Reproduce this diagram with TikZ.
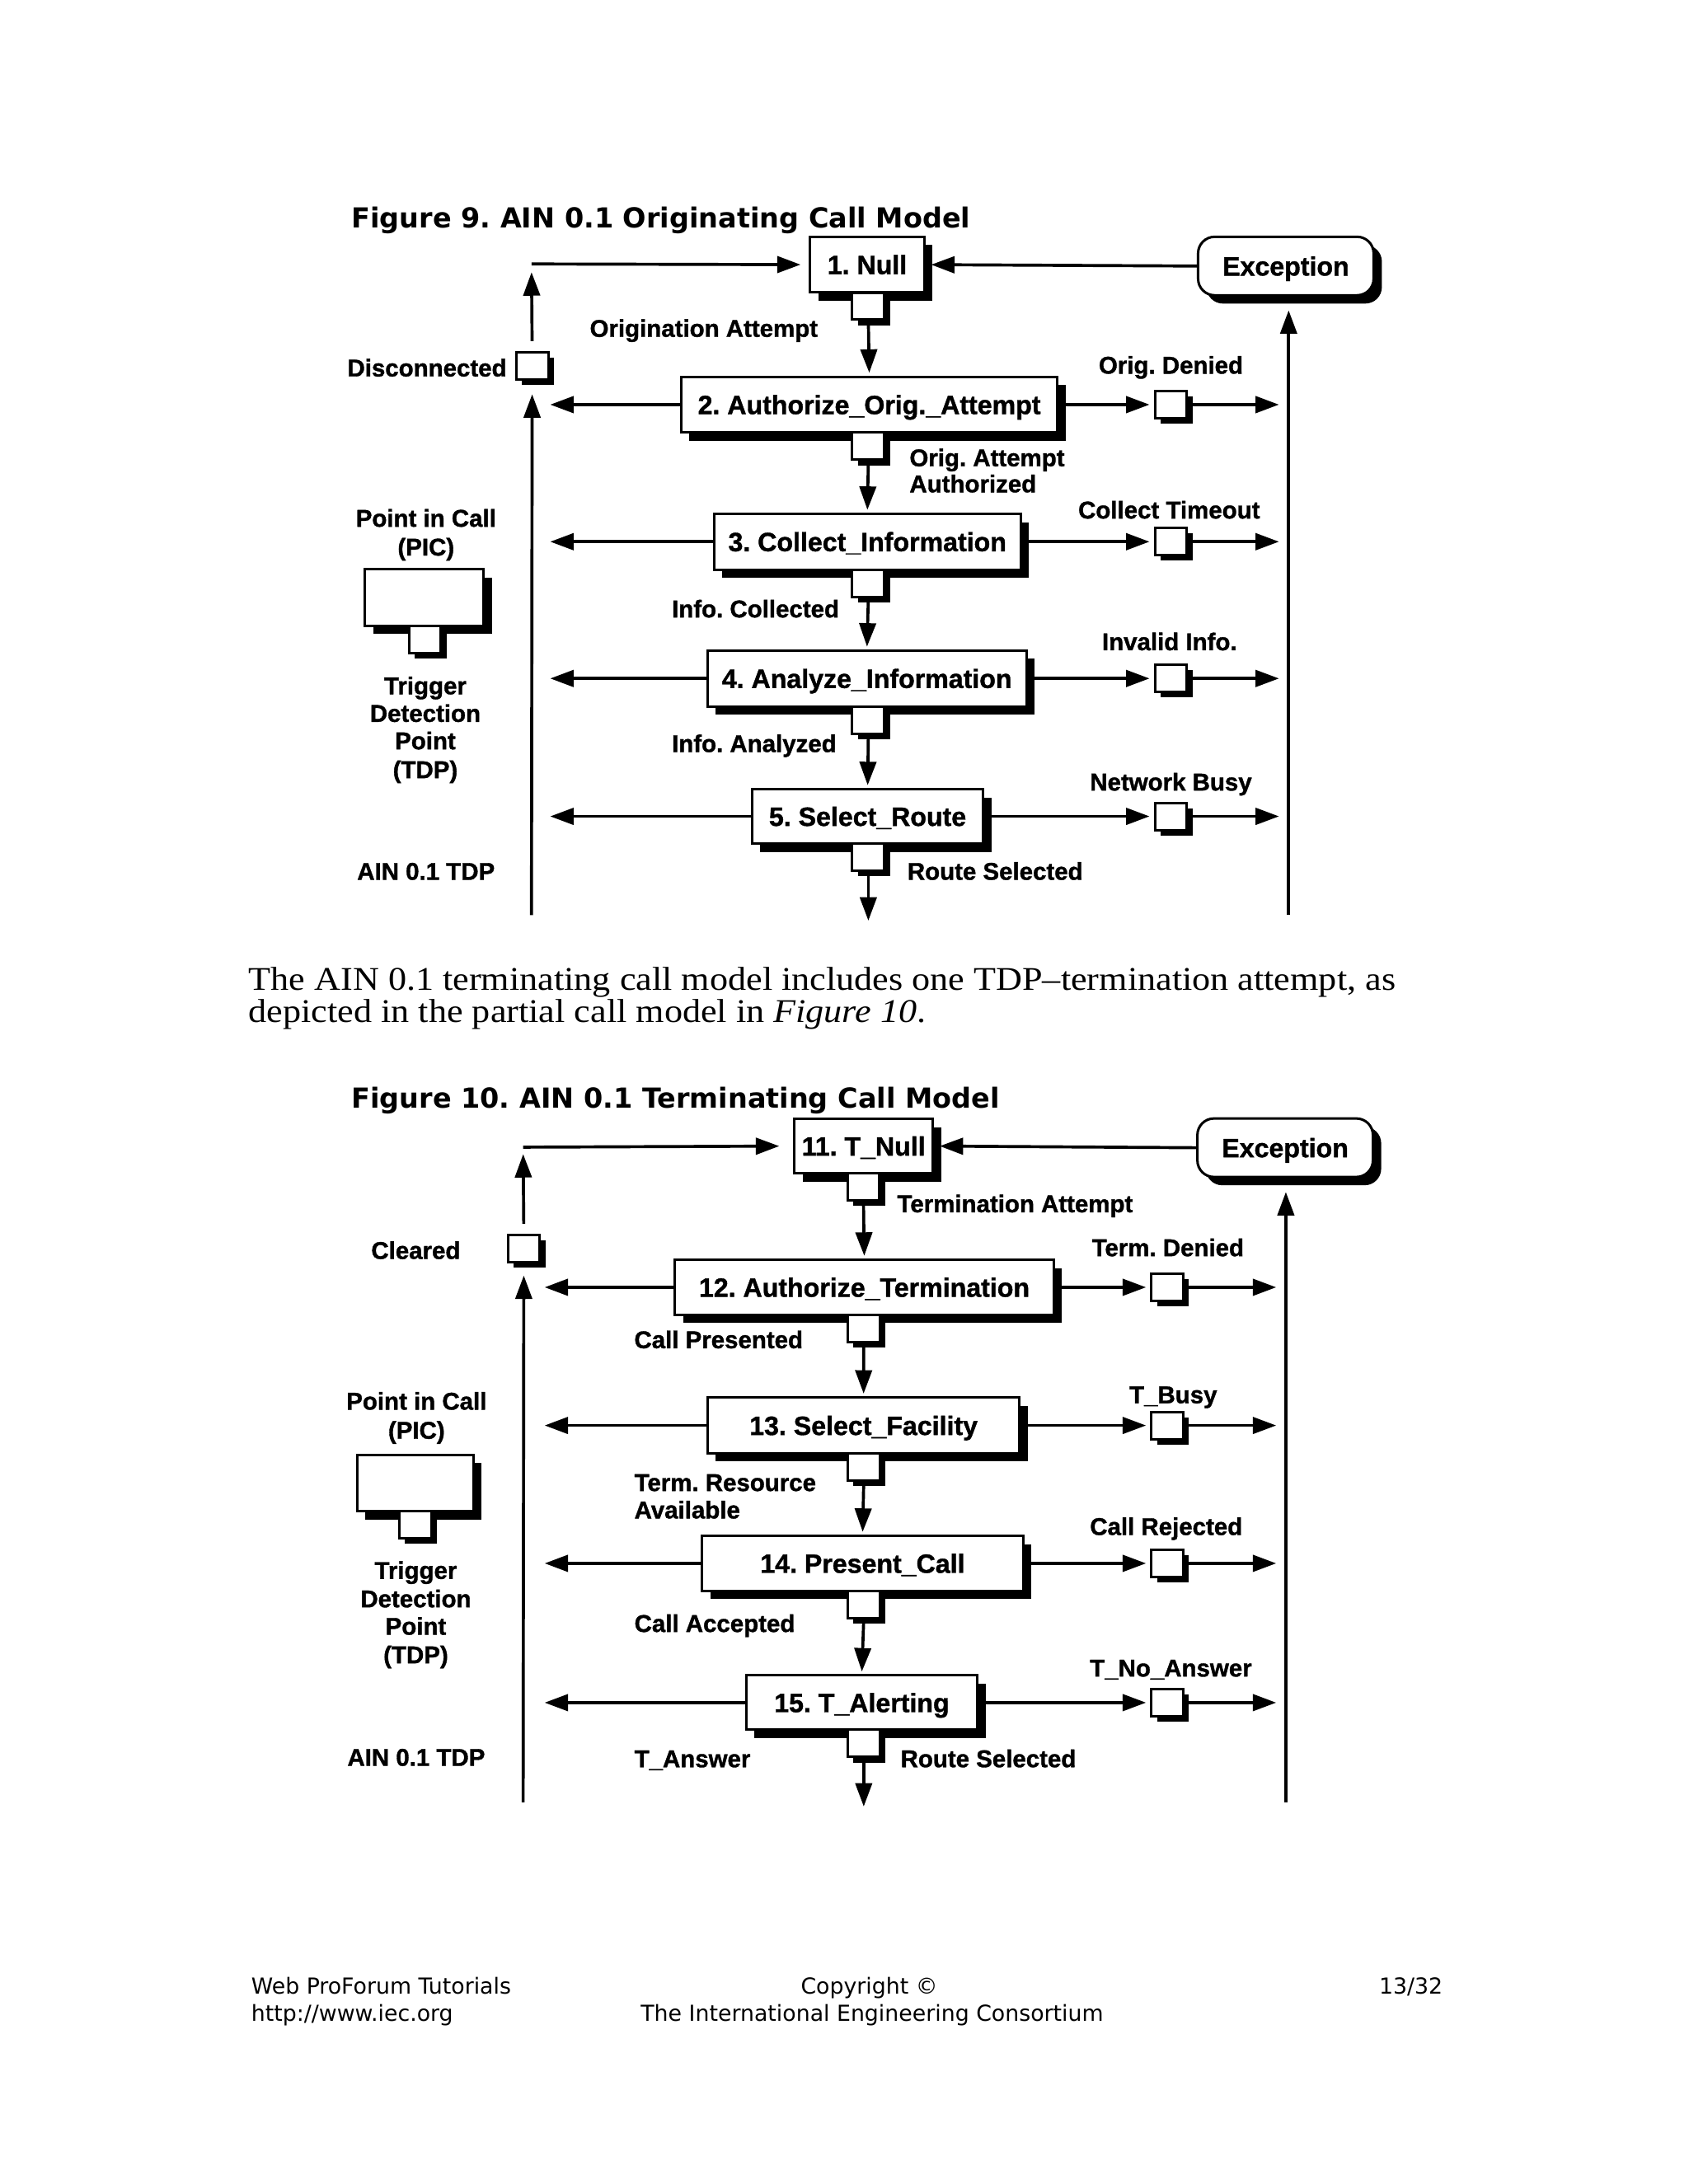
\documentclass[tikz,border=0pt]{standalone}
\usepackage{fontspec}
\setmainfont{Liberation Serif}[FakeStretch=1.1]
\newfontfamily\capfont{DejaVu Sans}
\newfontfamily\diafont{Liberation Sans}[BoldFeatures={FakeBold=1.2}]
\usetikzlibrary{arrows.meta,shadows}
\frenchspacing
\tikzset{
  arr/.style={line width=1.1pt,-{Triangle[length=8.5pt,width=6pt]}},
  sz/.style 2 args={minimum width=#1*0.505pt,minimum height=#2*0.505pt},
  bigshadow/.style={drop shadow={shadow xshift=3pt,shadow yshift=-3pt,opacity=1,fill=black}},
  smallshadow/.style={drop shadow={shadow xshift=2pt,shadow yshift=-2pt,opacity=1,fill=black}},
  picbox/.style={draw,line width=0.9pt,fill=white,bigshadow,inner sep=0pt,
    font=\diafont\bfseries\fontsize{9.6}{11}\selectfont,text height=6.9pt,text depth=0pt},
  excbox/.style={picbox,rounded corners=6pt},
  tdpbox/.style={draw,line width=0.9pt,fill=white,smallshadow,inner sep=0pt,minimum width=23*0.505pt,minimum height=19.5*0.505pt},
  lab/.style={inner sep=0pt,font=\diafont\bfseries\fontsize{8.8}{10}\selectfont,text height=6.3pt,text depth=0pt},
  labw/.style={lab,anchor=west},
  figcap/.style={inner sep=0pt,anchor=base west,font=\capfont\bfseries\fontsize{10}{12}\selectfont},
  bodytext/.style={inner sep=0pt,anchor=base west,font=\fontsize{12}{14}\selectfont},
  foot/.style={inner sep=0pt,font=\capfont\fontsize{8}{10}\selectfont}
}
\begin{document}
\begin{tikzpicture}[x=0.505pt,y=-0.505pt]
\useasboundingbox[fill=white] (0,0) rectangle (1212,1568);

%% ================= Figure 9 =================
\node[figcap] (cap9) at (251.9,163.7) {Figure 9. AIN 0.1 Originating Call Model};

\node[picbox,sz={82}{40}] (n1) at (622.5,190) {1. Null};
\node[tdpbox] (t1) at (623.3,219.8) {};
\node[excbox,sz={126}{42}] (exc1) at (923,191) {Exception};

\node[picbox,sz={270}{40}] (n2) at (624,290.5) {2. Authorize\_Orig.\_Attempt};
\node[tdpbox] (t2) at (623.3,320.3) {};
\node[tdpbox] (r2) at (840.5,290.5) {};
\node[tdpbox] (d1) at (382,262.5) {};

\node[picbox,sz={220}{40}] (n3) at (622.6,388.9) {3. Collect\_Information};
\node[tdpbox] (t3) at (623.3,418.7) {};
\node[tdpbox] (r3) at (840.5,388.9) {};

\node[picbox,sz={229}{40}] (n4) at (622.3,487.1) {4. Analyze\_Information};
\node[tdpbox] (t4) at (623.3,516.9) {};
\node[tdpbox] (r4) at (840.5,487.1) {};

\node[picbox,sz={166}{39}] (n5) at (622.8,586.1) {5. Select\_Route};
\node[tdpbox] (t5) at (623.3,615.4) {};
\node[tdpbox] (r5) at (840.5,586.1) {};

\node[picbox,sz={85}{40.5}] (leg9) at (304.6,429.1) {};
\node[tdpbox] (legt9) at (305,459.2) {};

\coordinate (L9top) at (381.5,189.5);
\coordinate (L9bot) at (381.5,657);
\coordinate (R9bot) at (925,657);
\coordinate (b9) at (623.3,661);

% connectors
\draw[arr,shorten >=2pt] (exc1.west) -- (n1.east);
\draw[arr,shorten >=3pt] (L9top) -- (n1.west);
\draw[arr,shorten <=3.5pt,shorten >=3pt] (d1.north) -- (L9top);
\draw[arr,shorten >=5pt] (L9bot) -- (d1.south);
\draw[arr,shorten >=5pt] (R9bot) -- (R9bot |- exc1.south);
\foreach \a/\b in {t1/n2,t2/n3,t3/n4,t4/n5}{
  \draw[arr,shorten >=1pt] (\a.south) -- (\b.north);
}
\draw[arr] (t5.south) -- (b9);
\foreach \n/\r in {n2/r2,n3/r3,n4/r4,n5/r5}{
  \draw[arr,shorten >=6.8pt] (\n.west) -- (\n.west -| L9bot);
  \draw[arr,shorten >=1.5pt] (\n.east) -- (\r.west);
  \draw[arr,shorten >=3.5pt] (\r.east) -- (\r.east -| R9bot);
}

% labels
\node[labw] (lo1) at (423,235.6) {Origination Attempt};
\node[labw] (ldis) at (249,264) {Disconnected};
\node[labw] (lden) at (788.3,262) {Orig. Denied};
\node[labw] (loa1) at (652.5,328.5) {Orig. Attempt};
\node[labw] (loa2) at (652.5,347.2) {Authorized};
\node[lab] (lpic9a) at (305.8,371.9) {Point in Call};
\node[lab] (lpic9b) at (305.8,392.6) {(PIC)};
\node[labw] (lct) at (773.6,366) {Collect Timeout};
\node[labw] (lic) at (481.9,437) {Info. Collected};
\node[labw] (lii) at (790.7,460.6) {Invalid Info.};
\node[lab] (ltr9a) at (305.3,492.2) {Trigger};
\node[lab] (ltr9b) at (305.3,512) {Detection};
\node[lab] (ltr9c) at (305.3,531.7) {Point};
\node[lab] (ltr9d) at (305.3,552.4) {(TDP)};
\node[labw] (lia) at (481.9,533.7) {Info. Analyzed};
\node[labw] (lnb) at (782,561.3) {Network Busy};
\node[labw] (lain9) at (256,625.4) {AIN 0.1 TDP};
\node[labw] (lrs9) at (651,625.4) {Route Selected};

%% ================= Paragraph =================
\node[bodytext] (p1) at (178.2,711.1) {The AIN 0.1 terminating call model includes one TDP–termination attempt, as};
\node[bodytext] (p2) at (178.2,733.8) {depicted in the partial call model in \textit{Figure 10}.};

%% ================= Figure 10 =================
\node[figcap] (cap10) at (251.9,795.5) {Figure 10. AIN 0.1 Terminating Call Model};

\node[picbox,sz={99.5}{39}] (m11) at (619.9,822.8) {11. T\_Null};
\node[tdpbox] (u11) at (619.8,852.1) {};
\node[excbox,sz={126}{42}] (exc2) at (922.5,824) {Exception};

\node[tdpbox] (cl) at (376,896.2) {};

\node[picbox,sz={272}{39.5}] (m12) at (620.4,924.2) {12. Authorize\_Termination};
\node[tdpbox] (u12) at (620,953.7) {};
\node[tdpbox] (r12) at (838,924.2) {};

\node[picbox,sz={224}{40}] (m13) at (619.9,1023.4) {13. Select\_Facility};
\node[tdpbox] (u13) at (620,1053.2) {};
\node[tdpbox] (r13) at (838,1023.4) {};

\node[picbox,sz={230.5}{39.5}] (m14) at (619.2,1122.4) {14. Present\_Call};
\node[tdpbox] (u14) at (620,1151.9) {};
\node[tdpbox] (r14) at (838,1122.4) {};

\node[picbox,sz={165.7}{39}] (m15) at (618.6,1222.4) {15. T\_Alerting};
\node[tdpbox] (u15) at (620,1251.7) {};
\node[tdpbox] (r15) at (838,1222.4) {};

\node[picbox,sz={83.4}{40.4}] (leg10) at (298,1064.7) {};
\node[tdpbox] (legt10) at (298.2,1094.6) {};

\coordinate (L10top) at (375.5,823.6);
\coordinate (L10bot) at (375.5,1294);
\coordinate (R10bot) at (923,1294);
\coordinate (b10) at (620,1297);

\draw[arr,shorten >=2pt] (exc2.west) -- (m11.east);
\draw[arr,shorten >=5pt] (L10top) -- (m11.west);
\draw[arr,shorten <=3.5pt,shorten >=2.5pt] (cl.north) -- (L10top);
\draw[arr,shorten >=4.5pt] (L10bot) -- (cl.south);
\draw[arr,shorten >=5pt] (R10bot) -- (R10bot |- exc2.south);
\foreach \a/\b in {u11/m12,u12/m13,u13/m14,u14/m15}{
  \draw[arr,shorten >=1pt] (\a.south) -- (\b.north);
}
\draw[arr] (u15.south) -- (b10);
\foreach \n/\r in {m12/r12,m13/r13,m14/r14,m15/r15}{
  \draw[arr,shorten >=7.8pt] (\n.west) -- (\n.west -| L10bot);
  \draw[arr,shorten >=1.5pt] (\n.east) -- (\r.west);
  \draw[arr,shorten >=3.5pt] (\r.east) -- (\r.east -| R10bot);
}

\node[labw] (lta) at (643.7,864.1) {Termination Attempt};
\node[labw] (lcl) at (266.1,897.6) {Cleared};
\node[labw] (ltd) at (783.4,895.6) {Term. Denied};
\node[labw] (lcp) at (454.9,961.7) {Call Presented};
\node[lab] (lpic10a) at (299,1005.8) {Point in Call};
\node[lab] (lpic10b) at (299,1026.7) {(PIC)};
\node[labw] (ltb) at (810.3,1001.2) {T\_Busy};
\node[labw] (ltr1) at (455,1064.2) {Term. Resource};
\node[labw] (ltr2) at (455,1083.9) {Available};
\node[labw] (lcr) at (782,1095.8) {Call Rejected};
\node[lab] (ltr10a) at (298.5,1127.3) {Trigger};
\node[lab] (ltr10b) at (298.5,1147.7) {Detection};
\node[lab] (ltr10c) at (298.5,1167.4) {Point};
\node[lab] (ltr10d) at (298.5,1187.9) {(TDP)};
\node[labw] (lca) at (455,1165.4) {Call Accepted};
\node[labw] (ltna) at (782,1197.4) {T\_No\_Answer};
\node[labw] (lain10) at (249,1261.5) {AIN 0.1 TDP};
\node[labw] (ltan) at (455,1262.5) {T\_Answer};
\node[labw] (lrs10) at (646.1,1262.5) {Route Selected};

%% ================= Footer =================
\node[foot,anchor=base west] (f1) at (180,1431.6) {Web ProForum Tutorials};
\node[foot,anchor=base west] (f2) at (180,1450.9) {http://www.iec.org};
\node[foot,anchor=base] (f3) at (624,1431.6) {Copyright ©};
\node[foot,anchor=base] (f4) at (626,1450.9) {The International Engineering Consortium};
\node[foot,anchor=base east] (f5) at (1036,1431.6) {13/32};
\end{tikzpicture}
\end{document}
